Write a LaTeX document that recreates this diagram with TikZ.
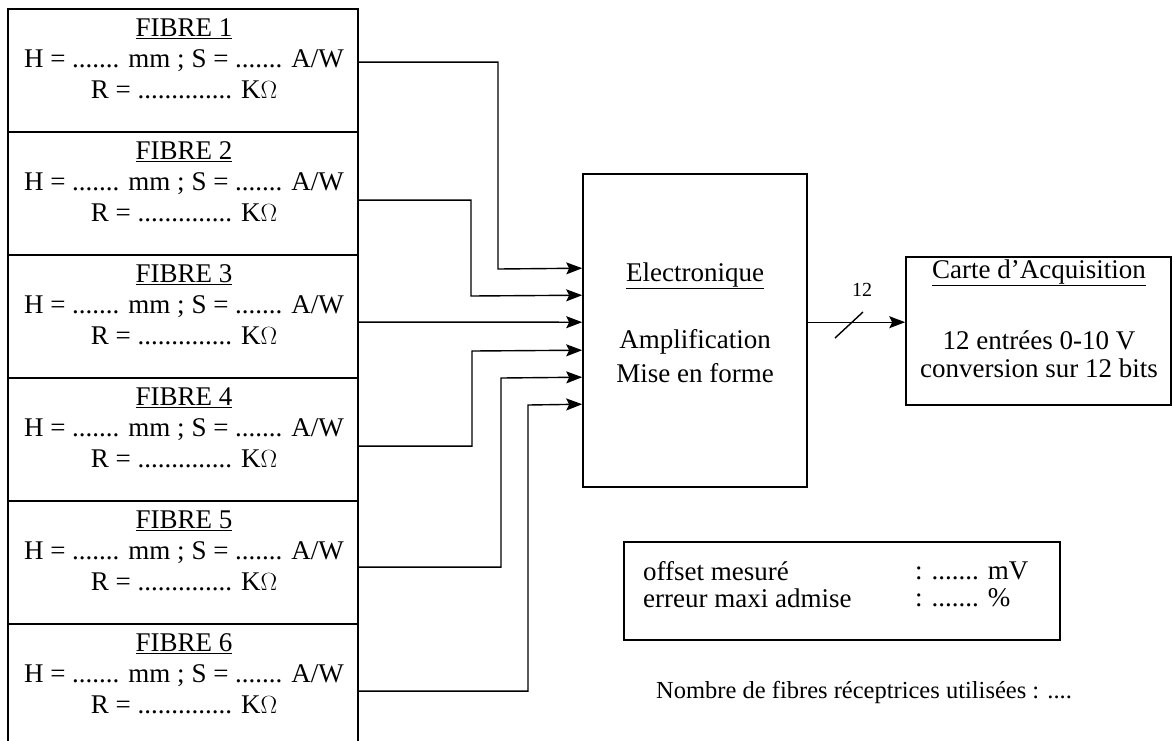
\documentclass[tikz,border=0pt]{standalone}
\usepackage{fontspec}
\setmainfont{Liberation Serif}
\usetikzlibrary{arrows.meta,calc}
\begin{document}
\begin{tikzpicture}[x=1pt,y=-1pt,
  fbox/.style={draw, line width=1.8pt, minimum width=350pt, minimum height=123pt, inner sep=0pt},
  tx/.style={font=\fontsize{27}{30}\selectfont, inner sep=0pt},
  small/.style={font=\fontsize{20}{22}\selectfont, inner sep=0pt},
  wire/.style={line width=1.4pt},
  arr/.style={wire, -{Stealth[length=16pt,width=12pt,inset=3pt]}},
  ebox/.style={draw, line width=1.6pt, inner sep=0pt}]
\useasboundingbox (0,0) rectangle (1174,740);
% fibre boxes
\foreach \i/\t in {1/9,2/132,3/255,4/378,5/501,6/624}{
  \node[fbox] (f\i) at (183,\t+61.5) {};
  \node[tx] at (184,\t+20) {\underline{FIBRE \i}};
  \node[tx] at (184,\t+52) {H = ....... mm ; S = ....... A/W};
  \node[tx] at (184,\t+81) {R = .............. K$\Omega$};
}
% electronics
\node[ebox, minimum width=224pt, minimum height=313pt] (E) at (695,330.5) {};
\node[tx] at (695,276) {\underline{Electronique}};
\node[tx] at (695,342) {Amplification};
\node[tx] at (695,373) {Mise en forme};
% acquisition card
\node[ebox, minimum width=265pt, minimum height=148pt] (C) at (1038.5,331) {};
\node[tx] at (1039,273) {\underline{Carte d’Acquisition}};
\node[tx] at (1039,340) {12 entrées 0-10 V};
\node[tx] at (1039,368) {conversion sur 12 bits};
% offset box
\node[ebox, minimum width=436pt, minimum height=98pt] (O) at (842,591) {};
\node[tx, anchor=west] at (643,571) {offset mesuré};
\node[tx, anchor=west] at (915,571) {: ....... mV};
\node[tx, anchor=west] at (643,598) {erreur maxi admise};
\node[tx, anchor=west] at (915,598) {: ....... \%};
\node[tx, font=\fontsize{24.5}{27}\selectfont, anchor=west] (nb) at (656,692) {Nombre de fibres réceptrices utilisées : ....};
% connectors
\draw[arr] ($(f1.north east)+(0,54)$) -| (498,269) -- ($(E.north west)+(0,95)$);
\draw[arr] ($(f2.north east)+(0,69)$) -| (471,296) -- ($(E.north west)+(0,122)$);
\draw[arr] ($(f3.north east)+(0,68)$) -- ($(E.north west)+(0,149)$);
\draw[arr] ($(f4.north east)+(0,69)$) -| (472,351) -- ($(E.north west)+(0,177)$);
\draw[arr] ($(f5.north east)+(0,67)$) -| (501,378) -- ($(E.north west)+(0,204)$);
\draw[arr] ($(f6.north east)+(0,68)$) -| (528,405) -- ($(E.north west)+(0,231)$);
\draw[arr] ($(E.north east)+(0,149)$) -- ($(C.north west)+(0,66)$);
\coordinate (s1) at (835,338);
\coordinate (s2) at (863,312);
\draw[wire] (s1) -- (s2);
\node[small] (n12) at (862,290) {12};
\end{tikzpicture}
\end{document}
